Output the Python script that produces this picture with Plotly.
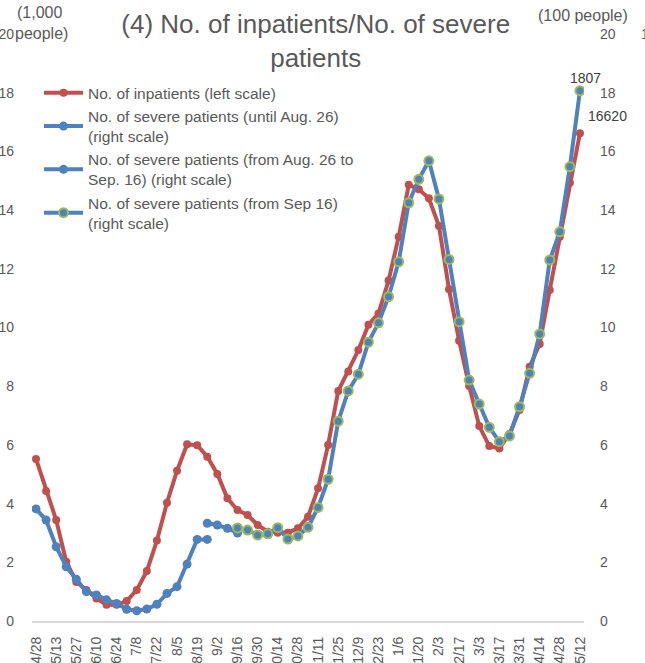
import plotly.graph_objects as go

# weekly dates (only every other one is shown on the axis)
weeks = ["4/28", "5/6", "5/13", "5/20", "5/27", "6/3", "6/10", "6/17", "6/24", "7/1",
         "7/8", "7/15", "7/22", "7/29", "8/5", "8/12", "8/19", "8/26", "9/2", "9/9",
         "9/16", "9/23", "9/30", "10/7", "10/14", "10/21", "10/28", "11/4", "11/11", "11/18",
         "11/25", "12/2", "12/9", "12/16", "12/23", "12/30", "1/6", "1/13", "1/20", "1/27",
         "2/3", "2/10", "2/17", "2/24", "3/3", "3/10", "3/17", "3/24", "3/31", "4/7",
         "4/14", "4/21", "4/28", "5/5", "5/12"]

# no. of inpatients (1,000 people, left scale)
inpatients = [5.52, 4.43, 3.44, 2.02, 1.33, 1.06, 0.77, 0.55, 0.55, 0.68,
              1.06, 1.70, 2.74, 4.03, 5.12, 6.02, 5.99, 5.60, 5.01, 4.18,
              3.78, 3.61, 3.27, 3.04, 3.01, 3.01, 3.16, 3.55, 4.52, 6.00,
              7.84, 8.50, 9.23, 10.09, 10.48, 11.60, 13.09, 14.86, 14.71, 14.40,
              13.46, 11.30, 9.55, 8.01, 6.64, 5.96, 5.88, 6.37, 7.19, 8.66,
              9.44, 11.28, 13.09, 14.93, 16.62]

# no. of severe patients (100 people, right scale)
severe_1 = [3.82, 3.44, 2.53, 1.85, 1.42, 1.00, 0.89, 0.72, 0.60, 0.40,
            0.35, 0.41, 0.57, 0.94, 1.17, 1.94, 2.78, 2.78]          # 4/28 - 8/26
severe_2 = [3.33, 3.27, 3.16, 3.00]                                   # 8/26 - 9/16
severe_3 = [3.17, 3.10, 2.93, 2.97, 3.18, 2.79, 2.90, 3.19, 3.87, 4.83,
            6.81, 7.84, 8.41, 9.50, 10.16, 11.05, 12.24, 14.25, 15.05, 15.68,
            14.38, 12.32, 10.20, 8.21, 7.39, 6.60, 6.11, 6.30, 7.30, 8.44,
            9.78, 12.30, 13.26, 15.48, 18.07]                         # 9/16 -

RED = "#C0504D"
BLUE = "#4F81BD"
GREEN = "#9BBB59"
GREY = "#595959"

x_all = list(range(len(weeks)))
x1 = x_all[:len(severe_1)]
x2 = x_all[17:17 + len(severe_2)]
x3 = x_all[20:20 + len(severe_3)]

fig = go.Figure()

fig.add_trace(go.Scatter(x=x_all, y=inpatients, mode="lines+markers",
                         name="No. of inpatients (left scale)",
                         line=dict(color=RED, width=4),
                         marker=dict(color=RED, size=8), yaxis="y"))
fig.add_trace(go.Scatter(x=x1, y=severe_1, mode="lines+markers",
                         name="No. of severe patients (until Aug. 26)<br>(right scale)",
                         line=dict(color=BLUE, width=4),
                         marker=dict(color=BLUE, size=9), yaxis="y2"))
fig.add_trace(go.Scatter(x=x2, y=severe_2, mode="lines+markers",
                         name="No. of severe patients (from Aug. 26 to<br>Sep. 16) (right scale)",
                         line=dict(color=BLUE, width=4),
                         marker=dict(color=BLUE, size=9), yaxis="y2"))
fig.add_trace(go.Scatter(x=x3, y=severe_3, mode="lines+markers",
                         name="No. of severe patients (from Sep 16)<br>(right scale)",
                         line=dict(color=BLUE, width=4),
                         marker=dict(color=BLUE, size=9, line=dict(color=GREEN, width=2)),
                         yaxis="y2"))

# data labels on the last week
fig.add_annotation(x=x3[-1], y=severe_3[-1], yref="y2", text=str(round(severe_3[-1] * 100)),
                   showarrow=False, xshift=6, yshift=13, font=dict(size=14, color="#404040"))
fig.add_annotation(x=x_all[-1], y=inpatients[-1], yref="y", text=str(round(inpatients[-1] * 1000)),
                   showarrow=False, xshift=28, yshift=17, font=dict(size=14, color="#404040"))

# axis unit labels
fig.add_annotation(xref="paper", yref="paper", x=0.0127, y=1.036, text="(1,000",
                   xanchor="center", yanchor="middle",
                   showarrow=False, font=dict(size=16, color=GREY))
fig.add_annotation(xref="paper", yref="paper", x=0.018, y=1.001, text="people)",
                   xanchor="center", yanchor="middle",
                   showarrow=False, font=dict(size=16, color=GREY))
fig.add_annotation(xref="paper", yref="paper", x=0.998, y=1.031, text="(100 people)",
                   xanchor="center", yanchor="middle",
                   showarrow=False, font=dict(size=16, color=GREY))
fig.add_annotation(xref="paper", yref="paper", x=1.1, y=1.0, text="1",
                   xanchor="left", yanchor="middle",
                   showarrow=False, font=dict(size=14, color=GREY))

fig.update_layout(
    width=645, height=663, autosize=False,
    margin=dict(l=32, r=61, t=34, b=42, autoexpand=False),
    paper_bgcolor="white", plot_bgcolor="white",
    font=dict(family="Liberation Sans, Arial, sans-serif", color=GREY),
    title=dict(text="(4) No. of inpatients/No. of severe<br>patients",
               x=0.514, xref="paper", y=1 - 33 / 663, yref="container",
               xanchor="center", yanchor="middle",
               font=dict(size=26, color=GREY)),
    showlegend=True,
    legend=dict(x=0.0127, y=0.928, xanchor="left", yanchor="top",
                bgcolor="rgba(0,0,0,0)", font=dict(size=15.5, color=GREY),
                itemwidth=39, tracegroupgap=0),
    xaxis=dict(range=[-0.4, 54.4], tickmode="array",
               tickvals=x_all[::2], ticktext=weeks[::2], tickangle=-90,
               showgrid=False, zeroline=False, showline=True,
               linecolor="#D9D9D9", linewidth=2, ticks="", ticklabelstandoff=8,
               tickfont=dict(size=14, color=GREY), automargin=False),
    yaxis=dict(range=[0, 20], dtick=2, showgrid=False, zeroline=False,
               ticks="", ticklabelstandoff=17,
               tickfont=dict(size=14, color=GREY), automargin=False),
    yaxis2=dict(range=[0, 20], dtick=2, overlaying="y", side="right",
                showgrid=False, zeroline=False, ticks="", ticklabelstandoff=15,
                tickfont=dict(size=14, color=GREY), automargin=False),
)

# drop the page's default body margin so the figure sits at the window corner
fig.write_html("out.html", config={"displayModeBar": False},
               post_script="document.body.style.margin = '0';")
